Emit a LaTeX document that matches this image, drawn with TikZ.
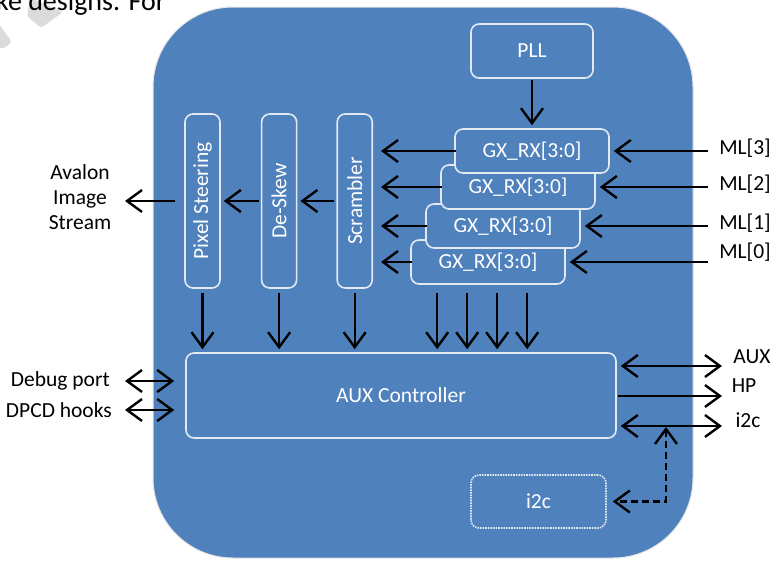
\documentclass[tikz,border=0pt]{standalone}
\usepackage{fontspec}
\setmainfont{Carlito}
\usepackage{graphicx}
\usetikzlibrary{arrows.meta,positioning,calc}

\definecolor{panelblue}{RGB}{79,129,189}
\definecolor{edgewhite}{RGB}{226,233,243}

\begin{document}
\begin{tikzpicture}[
    x=1pt, y=-1pt,
    every node/.style={font=\fontsize{21.5}{25}\selectfont},
    block/.style={draw=edgewhite, line width=1.6pt, fill=panelblue, rounded corners=8pt, text=white, inner sep=0pt},
    gxbox/.style={block, minimum width=154pt, minimum height=44pt},
    lane/.style={block, minimum width=35pt, minimum height=174pt},
    port/.style={text=black, inner sep=2pt},
    sig/.style={-{Straight Barb[length=15pt,width=22pt]}, line width=2.4pt},
    bisig/.style={{Straight Barb[length=15pt,width=22pt]}-{Straight Barb[length=15pt,width=22pt]}, line width=2.4pt}
]
\useasboundingbox (0,0) rectangle (782,560);

% Page scraps
\fill[gray!28, rounded corners=3pt] (30,-2) -- (63,12) -- (41,28) -- (27,16) -- cycle;
\fill[gray!28, rounded corners=3pt] (-4,20) -- (12,42) -- (3,49) -- (-4,47) -- cycle;
\node[anchor=base west, inner sep=0pt, font=\fontsize{28}{32}\selectfont] (pagetext) at (-4,10) {ke designs. For};

% Core
\fill[panelblue, draw=gray!20, line width=1pt, rounded corners=80pt] (153,7) rectangle (693,558);

% Clock
\node[block, minimum width=122pt, minimum height=54pt] (pll) at (532,51) {PLL};

% Receivers (back one first)
\node[gxbox] (gx0) at (488,262) {GX\_RX[3:0]};
\node[gxbox] (gx1) at (503,226) {GX\_RX[3:0]};
\node[gxbox] (gx2) at (518,187) {GX\_RX[3:0]};
\node[gxbox] (gx3) at (532,151) {GX\_RX[3:0]};

% Lanes
\node[lane] (pixsteer) at (202.5,201) {\rotatebox{90}{Pixel Steering}};
\node[lane, right=40pt of pixsteer] (deskew) {\rotatebox{90}{De-Skew}};
\node[lane, right=39pt of deskew] (scrambler) {\rotatebox{90}{Scrambler}};

% Controller
\node[block, minimum width=430pt, minimum height=85pt] (auxctrl) at (401,395.5) {AUX Controller};
\node[block, densely dotted, minimum width=135pt, minimum height=53pt] (i2cbox) at (538.5,501.5) {i2c};

% Outside ports
\node[port, align=center] (avalon) at (80,197) {Avalon\\Image\\Stream};
\node[port, anchor=east] (debug) at (112,381) {Debug port};
\node[port, anchor=east] (dpcd) at (114,410) {DPCD hooks};
\node[port] (ml3) at (745,148) {ML[3]};
\node[port] (ml2) at (745,184) {ML[2]};
\node[port] (ml1) at (745,223) {ML[1]};
\node[port] (ml0) at (745,252) {ML[0]};
\node[port] (aux) at (752,357) {AUX};
\node[port] (hp) at (744,386) {HP};
\node[port] (i2c) at (748,420) {i2c};

\coordinate (mlin) at (708,0);
\coordinate (leftin) at (125,0);
\coordinate (auxport) at (722,366);
\coordinate (hpport) at (722,396);
\coordinate (i2cport) at (722,426);
\coordinate (i2cjoin) at (666,426);

% Arrows
\draw[sig, shorten <=1pt, shorten >=3pt] (pll.south) -- (pll.south |- gx3.north);
\foreach \i in {0,...,3} {
  \draw[sig, shorten >=4pt] (mlin |- gx\i) -- (gx\i.east);
  \draw[sig, shorten <=-2pt, shorten >=8pt] (gx\i.west) -- (scrambler.east |- gx\i.west);
}
\draw[sig, shorten <=2pt, shorten >=3pt] (scrambler.west) -- (deskew.east);
\draw[sig, shorten <=2pt, shorten >=3pt] (deskew.west) -- (pixsteer.east);
\draw[sig, shorten <=9pt] (pixsteer.west) -- (leftin |- pixsteer.west);
\foreach \n in {pixsteer,deskew,scrambler}
  \draw[sig, shorten <=4pt, shorten >=3pt] (\n.south) -- (\n.south |- auxctrl.north);
\foreach \dx [count=\k] in {27,57,87,117} {
  \coordinate (drop\k) at ($(gx0.south west)+(\dx,0)$);
  \draw[sig, shorten <=8pt, shorten >=3pt] (drop\k) -- (drop\k |- auxctrl.north);
}
\draw[bisig, shorten >=11pt] (leftin |- debug) -- (auxctrl.west |- debug);
\draw[bisig, shorten >=11pt] (leftin |- dpcd) -- (auxctrl.west |- dpcd);
\draw[bisig, shorten <=4pt] (auxctrl.east |- auxport) -- (auxport);
\draw[sig, shorten <=1pt] (auxctrl.east |- hpport) -- (hpport);
\draw[bisig, shorten <=4pt] (auxctrl.east |- i2cport) -- (i2cport);
\draw[bisig, dash pattern=on 7pt off 4pt, shorten <=1pt, shorten >=6pt] (i2cjoin) |- (i2cbox.east);

\end{tikzpicture}
\end{document}
